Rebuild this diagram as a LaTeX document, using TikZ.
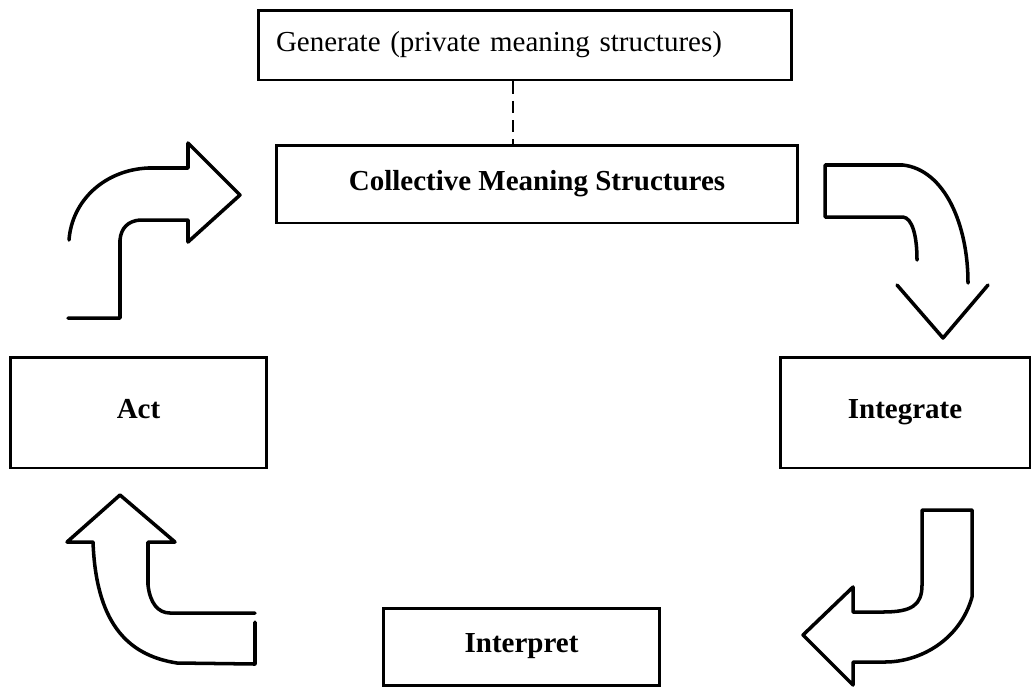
\documentclass[tikz,border=0pt]{standalone}
\usepackage{fontspec}
\setmainfont{Liberation Serif}
\tikzset{
  stagebox/.style={draw, line width=1.7pt, inner sep=0pt, text height=1.6ex, text depth=0.1ex, font=\fontsize{16.5}{20}\selectfont\bfseries},
  flow/.style={line width=2pt, line join=round, line cap=round}
}
\begin{document}
\begin{tikzpicture}[x=0.02cm,y=-0.02cm]
	\useasboundingbox (0,0) rectangle (1033,687);
	\node[stagebox, font=\fontsize{16.5}{20}\selectfont, text width=9.96cm, align=left, inner xsep=0.36cm, minimum height=1.4cm] (gen) at (525,45) {Generate (private meaning structures)};
	\node[stagebox, minimum width=10.44cm, minimum height=1.56cm] (coll) at (537,184) {Collective Meaning Structures};
	\node[stagebox, minimum width=5.14cm, minimum height=2.22cm] (act) at (138.5,412.5) {Act};
	\node[stagebox, minimum width=5cm, minimum height=2.22cm] (integ) at (905,412.5) {Integrate};
	\node[stagebox, minimum width=5.54cm, minimum height=1.54cm] (interp) at (521.5,646.5) {Interpret};
	\draw[line width=1.5pt, dash pattern=on 7pt off 4pt] (gen.south -| 513,0) -- (coll.north -| 513,0);
	% act -> collective
	\draw[flow] (69,240) .. controls (72,200) and (105,170) .. (148,168) -- (188,168) -- (188,143) -- (240,195) -- (188,242) -- (188,220) -- (140,220) .. controls (128,221) and (121,228) .. (120,240) -- (120,318) -- (68,318);
	% collective -> integrate
	\draw[flow] (917,260) .. controls (917,235) and (912,218) .. (903,217) -- (825,217) -- (825,165) -- (903,165) .. controls (945,170) and (968,225) .. (968,283);
	\draw[flow] (897,285) -- (943,338) -- (988,285);
	% integrate -> interpret
	\draw[flow] (922,510) -- (972,510) -- (972,597) .. controls (960,640) and (920,662) .. (885,662) -- (853,662) -- (853,685) -- (803,635) -- (853,587) -- (853,612) -- (883,612) .. controls (912,612) and (922,605) .. (922,585) -- cycle;
	% interpret -> act
	\draw[flow] (255,622) -- (255,664) -- (177,663) .. controls (125,655) and (96,620) .. (93,542) -- (67,542) -- (120,495) -- (175,542) -- (148,542) -- (148,585) .. controls (150,603) and (158,613) .. (170,613) -- (255,613);
\end{tikzpicture}
\end{document}
